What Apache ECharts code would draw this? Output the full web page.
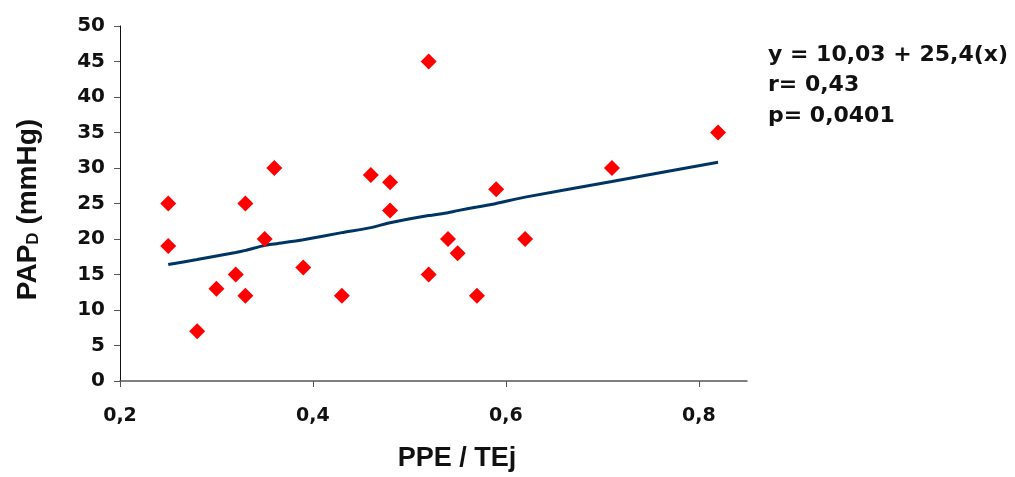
<!DOCTYPE html>
<html>
<head>
<meta charset="utf-8">
<script src="https://cdn.jsdelivr.net/npm/echarts@6/dist/echarts.min.js"></script>
<style>
  html, body { margin: 0; padding: 0; background: #ffffff; }
  #chart { width: 1015px; height: 477px; }
</style>
</head>
<body>
<div id="chart"></div>
<script>
// Scatter data (PPE / TEj vs PAP_D)
var ppeTej = [0.25, 0.25, 0.28, 0.30, 0.32, 0.33, 0.33, 0.35, 0.36, 0.39, 0.43, 0.46, 0.48, 0.48, 0.52, 0.52, 0.54, 0.55, 0.57, 0.59, 0.62, 0.71, 0.82];
var papD   = [25,   19,   7,    13,   15,   25,   12,   20,   30,   16,   12,   29,   28,   24,   45,   15,   20,   18,   12,   27,   20,   30,   35];

// Regression line as drawn in the picture (x, fitted y)
var fitX = [0.25, 0.28, 0.30, 0.32, 0.33, 0.35, 0.36, 0.39, 0.43, 0.46, 0.48, 0.52, 0.54, 0.55, 0.57, 0.59, 0.62, 0.71, 0.82];
var fitY = [16.4, 17.1, 17.6, 18.1, 18.4, 19.1, 19.3, 19.9, 20.9, 21.6, 22.3, 23.3, 23.7, 24.0, 24.5, 25.0, 25.9, 28.1, 30.8];

var xTicks = [0.2, 0.4, 0.6, 0.8];
var statLines = ['y = 10,03 + 25,4(x)', 'r= 0,43', 'p= 0,0401'];

var scatterData = ppeTej.map(function (x, i) { return [x, papD[i]]; });
var fitData = fitX.map(function (x, i) { return [x, fitY[i]]; });

var chart = echarts.init(document.getElementById('chart'), null, { renderer: 'canvas' });
var tickFont = 'DejaVu Sans';
var titleFont = '"Liberation Sans", Arial, sans-serif';

chart.setOption({
  backgroundColor: '#ffffff',
  animation: false,
  grid: { left: 120, right: 268, top: 26, bottom: 94, containLabel: false },
  xAxis: {
    type: 'value',
    min: 0.2,
    max: 0.85,
    interval: 0.05,
    splitLine: { show: false },
    axisLine: { onZero: false, lineStyle: { color: '#555555', width: 1.5 } },
    axisTick: {
      show: true, length: 6, inside: false,
      interval: 0,
      lineStyle: { color: '#555555' },
      customValues: xTicks
    },
    axisLabel: {
      margin: 26,
      color: '#111111',
      fontFamily: tickFont,
      fontWeight: 'bold',
      fontSize: 19,
      customValues: xTicks,
      formatter: function (v) { return v.toFixed(1).replace('.', ','); }
    },
    name: 'PPE / TEj',
    nameLocation: 'middle',
    nameGap: 64,
    nameTextStyle: {
      fontFamily: titleFont, fontWeight: 'bold', fontSize: 27, color: '#111111',
      padding: [0, 0, 0, 47]
    }
  },
  yAxis: {
    type: 'value',
    min: 0,
    max: 50,
    interval: 5,
    splitLine: { show: false },
    axisLine: { onZero: false, lineStyle: { color: '#111111', width: 1 } },
    axisTick: { show: true, length: 6, inside: false, lineStyle: { color: '#555555' } },
    axisLabel: {
      margin: 15,
      color: '#111111',
      fontFamily: tickFont,
      fontWeight: 'bold',
      fontSize: 20
    },
    name: '{a|PAP}{s|D}{a| (mmHg)}',
    nameLocation: 'middle',
    nameGap: 78,
    nameRotate: 90,
    nameTextStyle: {
      color: '#111111',
      padding: [0, 12, 0, 0],
      rich: {
        a: { fontFamily: titleFont, fontWeight: 'bold', fontSize: 28, color: '#111111', verticalAlign: 'bottom', lineHeight: 30 },
        s: { fontFamily: titleFont, fontWeight: 'bold', fontSize: 17, color: '#111111', verticalAlign: 'bottom', lineHeight: 28 }
      }
    }
  },
  graphic: [{
    type: 'text',
    left: 768,
    top: 40,
    style: {
      text: statLines.join('\n'),
      fontFamily: tickFont,
      fontWeight: 'bold',
      fontSize: 22,
      lineHeight: 30.5,
      fill: '#111111'
    }
  }],
  series: [
    {
      name: 'fit',
      type: 'line',
      data: fitData,
      showSymbol: false,
      symbol: 'none',
      smooth: 0.2,
      lineStyle: { color: '#003563', width: 3 },
      z: 2
    },
    {
      name: 'PAPD',
      type: 'scatter',
      data: scatterData,
      symbol: 'diamond',
      symbolSize: [16, 16],
      itemStyle: { color: '#ff0000', opacity: 1 },
      z: 3
    }
  ]
});
</script>
</body>
</html>
